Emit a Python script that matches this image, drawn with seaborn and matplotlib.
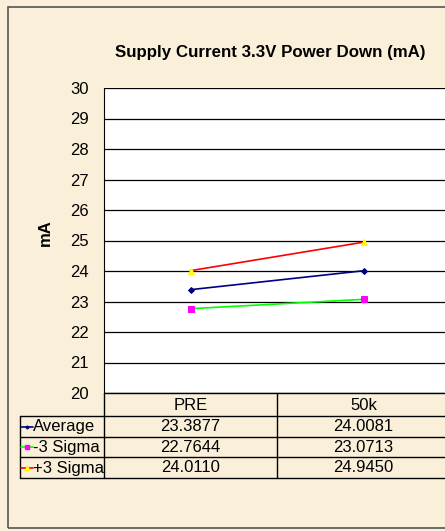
import pandas as pd
import matplotlib.pyplot as plt
import seaborn as sns
from matplotlib.patches import Rectangle
from matplotlib.lines import Line2D

# Data
categories = ['PRE', '50k']
series_names = ['Average', '-3 Sigma', '+3 Sigma']
average = [23.3877, 24.0081]
minus3 = [22.7644, 23.0713]
plus3 = [24.0110, 24.9450]
y_ticks = list(range(20, 31))

values = {'Average': average, '-3 Sigma': minus3, '+3 Sigma': plus3}
df = pd.DataFrame([
    {'series': s, 'pos': i, 'cat': c, 'value': values[s][i]}
    for s in series_names for i, c in enumerate(categories)
])

# line colour, marker, marker colour, marker size
styles = {
    'Average': ('#000080', 'D', '#000080', 3),
    '-3 Sigma': ('#00FF00', 's', '#FF00FF', 5),
    '+3 Sigma': ('#FF0000', '^', '#FFFF00', 5),
}

sns.set_style("white")
plt.rcParams['font.family'] = ['Liberation Sans', 'DejaVu Sans']
plt.rcParams['text.color'] = 'black'
plt.rcParams['ytick.color'] = 'black'
plt.rcParams['axes.labelcolor'] = 'black'

W, H = 445, 531
fig = plt.figure(figsize=(W / 100, H / 100), dpi=100)
fig.patch.set_facecolor('#FAF0DA')

# outer chart frame
fig.patches.append(Rectangle((8 / W, 1 - 528 / H), 500 / W, (528 - 7) / H,
                             transform=fig.transFigure, fill=False,
                             edgecolor='#555555', linewidth=1.2))

ax_l, ax_r, ax_t, ax_b = 104, 450, 88, 393
ax = fig.add_axes([ax_l / W, 1 - ax_b / H, (ax_r - ax_l) / W, (ax_b - ax_t) / H])
ax.set_facecolor('white')

for s in series_names:
    lc, mk, mc, ms = styles[s]
    sns.lineplot(data=df[df['series'] == s], x='pos', y='value', ax=ax,
                 color=lc, linewidth=1.2, marker=mk, markersize=ms,
                 markerfacecolor=mc, markeredgecolor=mc, legend=False, zorder=3)

ax.set_xlim(-0.5, len(categories) - 0.5)
ax.set_ylim(20, 30)
ax.set_yticks(y_ticks)
ax.set_yticklabels([str(t) for t in y_ticks], fontsize=12, color='black')
ax.set_xticks([])
ax.set_xlabel('')
ax.set_ylabel('')
ax.grid(axis='y', color='black', linewidth=0.9)
ax.tick_params(axis='y', length=5, width=1, color='black', direction='out', pad=6)
for side in ['right', 'top', 'bottom']:
    ax.spines[side].set_visible(False)
ax.spines['left'].set_color('black')

fig.text(270 / W, 1 - 52 / H, 'Supply Current 3.3V Power Down (mA)',
         ha='center', va='center', fontsize=12.2, fontweight='bold', color='black')
fig.text(45 / W, 1 - 233 / H, 'mA', ha='center', va='center',
         rotation=90, fontsize=12, fontweight='bold', color='black')

# data table under the plot
col_x = [20, 104, 277, 450]
row_y = [393, 416, 436.5, 457, 478]
tf = fig.transFigure


def fx(x):
    return x / W


def fy(y):
    return 1 - y / H


lw = 1.0
# horizontal lines
fig.lines.append(Line2D([fx(104), fx(450)], [fy(393), fy(393)], transform=tf, color='black', lw=lw))
for y in row_y[1:]:
    fig.lines.append(Line2D([fx(20), fx(450)], [fy(y), fy(y)], transform=tf, color='black', lw=lw))
# vertical lines
fig.lines.append(Line2D([fx(20), fx(20)], [fy(416), fy(478)], transform=tf, color='black', lw=lw))
for x in col_x[1:3]:
    fig.lines.append(Line2D([fx(x), fx(x)], [fy(393), fy(478)], transform=tf, color='black', lw=lw))

for i, c in enumerate(categories):
    cx = (col_x[i + 1] + col_x[i + 2]) / 2
    fig.text(fx(cx), fy((row_y[0] + row_y[1]) / 2 + 1), c, ha='center', va='center',
             fontsize=12, color='black')

for r, s in enumerate(series_names):
    cy = (row_y[r + 1] + row_y[r + 2]) / 2 + 0.5
    lc, mk, mc, ms = styles[s]
    fig.lines.append(Line2D([fx(21), fx(33)], [fy(cy), fy(cy)], transform=tf, color=lc, lw=1.2))
    fig.lines.append(Line2D([fx(27)], [fy(cy)], transform=tf, marker=mk, markersize=ms - 1.5,
                            markerfacecolor=mc, markeredgecolor=mc, lw=0))
    fig.text(fx(33), fy(cy), s, ha='left', va='center', fontsize=12, color='black')
    for i in range(len(categories)):
        cx = (col_x[i + 1] + col_x[i + 2]) / 2
        fig.text(fx(cx), fy(cy), f'{values[s][i]:.4f}', ha='center', va='center',
                 fontsize=12, color='black')

fig.savefig('out.png', dpi=100, facecolor=fig.get_facecolor())
